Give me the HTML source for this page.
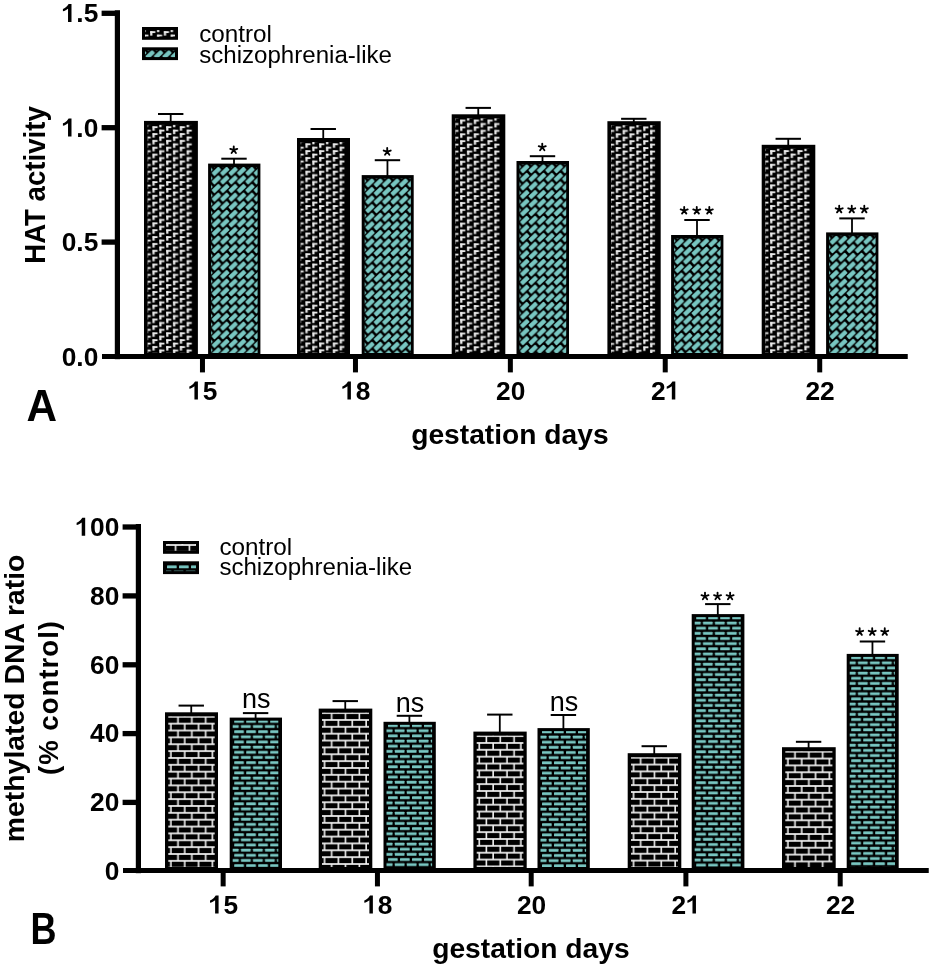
<!DOCTYPE html>
<html><head><meta charset="utf-8"><style>
html,body{margin:0;padding:0;background:#fff;}
svg{display:block;will-change:transform;}
text{font-family:"Liberation Sans", sans-serif;fill:#000;}
</style></head><body>
<svg width="932" height="967" viewBox="0 0 932 967">
<defs><pattern id="p1" patternUnits="userSpaceOnUse" x="152.30" y="126.10" width="13.7" height="6.87"><rect width="13.7" height="6.87" fill="#000"/><rect x="0.20" y="0.20" width="5.1" height="1.8" fill="#ececec"/><rect x="0.20" y="0.20" width="2.2" height="4.4" fill="#ececec"/><rect x="7.05" y="3.63" width="5.1" height="1.8" fill="#ececec"/><rect x="7.05" y="3.63" width="2.2" height="4.4" fill="#ececec"/><rect x="7.05" y="-3.24" width="5.1" height="1.8" fill="#ececec"/><rect x="7.05" y="-3.24" width="2.2" height="4.4" fill="#ececec"/></pattern><pattern id="p2" patternUnits="userSpaceOnUse" x="212.20" y="167.00" width="8.4" height="8.6"><rect width="8.4" height="8.6" fill="#000"/><rect x="-8.90" y="-6.50" width="9.4" height="4.4" rx="0.8" fill="#78c6c1" transform="rotate(-43 -4.20 -4.30)"/><rect x="-8.90" y="2.10" width="9.4" height="4.4" rx="0.8" fill="#78c6c1" transform="rotate(-43 -4.20 4.30)"/><rect x="-8.90" y="10.70" width="9.4" height="4.4" rx="0.8" fill="#78c6c1" transform="rotate(-43 -4.20 12.90)"/><rect x="-0.50" y="-6.50" width="9.4" height="4.4" rx="0.8" fill="#78c6c1" transform="rotate(-43 4.20 -4.30)"/><rect x="-0.50" y="2.10" width="9.4" height="4.4" rx="0.8" fill="#78c6c1" transform="rotate(-43 4.20 4.30)"/><rect x="-0.50" y="10.70" width="9.4" height="4.4" rx="0.8" fill="#78c6c1" transform="rotate(-43 4.20 12.90)"/><rect x="7.90" y="-6.50" width="9.4" height="4.4" rx="0.8" fill="#78c6c1" transform="rotate(-43 12.60 -4.30)"/><rect x="7.90" y="2.10" width="9.4" height="4.4" rx="0.8" fill="#78c6c1" transform="rotate(-43 12.60 4.30)"/><rect x="7.90" y="10.70" width="9.4" height="4.4" rx="0.8" fill="#78c6c1" transform="rotate(-43 12.60 12.90)"/></pattern><pattern id="p3" patternUnits="userSpaceOnUse" x="305.30" y="143.20" width="13.7" height="6.87"><rect width="13.7" height="6.87" fill="#000"/><rect x="0.20" y="0.20" width="5.1" height="1.8" fill="#ececec"/><rect x="0.20" y="0.20" width="2.2" height="4.4" fill="#ececec"/><rect x="7.05" y="3.63" width="5.1" height="1.8" fill="#ececec"/><rect x="7.05" y="3.63" width="2.2" height="4.4" fill="#ececec"/><rect x="7.05" y="-3.24" width="5.1" height="1.8" fill="#ececec"/><rect x="7.05" y="-3.24" width="2.2" height="4.4" fill="#ececec"/></pattern><pattern id="p4" patternUnits="userSpaceOnUse" x="365.80" y="178.50" width="8.4" height="8.6"><rect width="8.4" height="8.6" fill="#000"/><rect x="-8.90" y="-6.50" width="9.4" height="4.4" rx="0.8" fill="#78c6c1" transform="rotate(-43 -4.20 -4.30)"/><rect x="-8.90" y="2.10" width="9.4" height="4.4" rx="0.8" fill="#78c6c1" transform="rotate(-43 -4.20 4.30)"/><rect x="-8.90" y="10.70" width="9.4" height="4.4" rx="0.8" fill="#78c6c1" transform="rotate(-43 -4.20 12.90)"/><rect x="-0.50" y="-6.50" width="9.4" height="4.4" rx="0.8" fill="#78c6c1" transform="rotate(-43 4.20 -4.30)"/><rect x="-0.50" y="2.10" width="9.4" height="4.4" rx="0.8" fill="#78c6c1" transform="rotate(-43 4.20 4.30)"/><rect x="-0.50" y="10.70" width="9.4" height="4.4" rx="0.8" fill="#78c6c1" transform="rotate(-43 4.20 12.90)"/><rect x="7.90" y="-6.50" width="9.4" height="4.4" rx="0.8" fill="#78c6c1" transform="rotate(-43 12.60 -4.30)"/><rect x="7.90" y="2.10" width="9.4" height="4.4" rx="0.8" fill="#78c6c1" transform="rotate(-43 12.60 4.30)"/><rect x="7.90" y="10.70" width="9.4" height="4.4" rx="0.8" fill="#78c6c1" transform="rotate(-43 12.60 12.90)"/></pattern><pattern id="p5" patternUnits="userSpaceOnUse" x="460.00" y="119.50" width="13.7" height="6.87"><rect width="13.7" height="6.87" fill="#000"/><rect x="0.20" y="0.20" width="5.1" height="1.8" fill="#ececec"/><rect x="0.20" y="0.20" width="2.2" height="4.4" fill="#ececec"/><rect x="7.05" y="3.63" width="5.1" height="1.8" fill="#ececec"/><rect x="7.05" y="3.63" width="2.2" height="4.4" fill="#ececec"/><rect x="7.05" y="-3.24" width="5.1" height="1.8" fill="#ececec"/><rect x="7.05" y="-3.24" width="2.2" height="4.4" fill="#ececec"/></pattern><pattern id="p6" patternUnits="userSpaceOnUse" x="520.60" y="164.40" width="8.4" height="8.6"><rect width="8.4" height="8.6" fill="#000"/><rect x="-8.90" y="-6.50" width="9.4" height="4.4" rx="0.8" fill="#78c6c1" transform="rotate(-43 -4.20 -4.30)"/><rect x="-8.90" y="2.10" width="9.4" height="4.4" rx="0.8" fill="#78c6c1" transform="rotate(-43 -4.20 4.30)"/><rect x="-8.90" y="10.70" width="9.4" height="4.4" rx="0.8" fill="#78c6c1" transform="rotate(-43 -4.20 12.90)"/><rect x="-0.50" y="-6.50" width="9.4" height="4.4" rx="0.8" fill="#78c6c1" transform="rotate(-43 4.20 -4.30)"/><rect x="-0.50" y="2.10" width="9.4" height="4.4" rx="0.8" fill="#78c6c1" transform="rotate(-43 4.20 4.30)"/><rect x="-0.50" y="10.70" width="9.4" height="4.4" rx="0.8" fill="#78c6c1" transform="rotate(-43 4.20 12.90)"/><rect x="7.90" y="-6.50" width="9.4" height="4.4" rx="0.8" fill="#78c6c1" transform="rotate(-43 12.60 -4.30)"/><rect x="7.90" y="2.10" width="9.4" height="4.4" rx="0.8" fill="#78c6c1" transform="rotate(-43 12.60 4.30)"/><rect x="7.90" y="10.70" width="9.4" height="4.4" rx="0.8" fill="#78c6c1" transform="rotate(-43 12.60 12.90)"/></pattern><pattern id="p7" patternUnits="userSpaceOnUse" x="615.70" y="126.40" width="13.7" height="6.87"><rect width="13.7" height="6.87" fill="#000"/><rect x="0.20" y="0.20" width="5.1" height="1.8" fill="#ececec"/><rect x="0.20" y="0.20" width="2.2" height="4.4" fill="#ececec"/><rect x="7.05" y="3.63" width="5.1" height="1.8" fill="#ececec"/><rect x="7.05" y="3.63" width="2.2" height="4.4" fill="#ececec"/><rect x="7.05" y="-3.24" width="5.1" height="1.8" fill="#ececec"/><rect x="7.05" y="-3.24" width="2.2" height="4.4" fill="#ececec"/></pattern><pattern id="p8" patternUnits="userSpaceOnUse" x="675.20" y="238.40" width="8.4" height="8.6"><rect width="8.4" height="8.6" fill="#000"/><rect x="-8.90" y="-6.50" width="9.4" height="4.4" rx="0.8" fill="#78c6c1" transform="rotate(-43 -4.20 -4.30)"/><rect x="-8.90" y="2.10" width="9.4" height="4.4" rx="0.8" fill="#78c6c1" transform="rotate(-43 -4.20 4.30)"/><rect x="-8.90" y="10.70" width="9.4" height="4.4" rx="0.8" fill="#78c6c1" transform="rotate(-43 -4.20 12.90)"/><rect x="-0.50" y="-6.50" width="9.4" height="4.4" rx="0.8" fill="#78c6c1" transform="rotate(-43 4.20 -4.30)"/><rect x="-0.50" y="2.10" width="9.4" height="4.4" rx="0.8" fill="#78c6c1" transform="rotate(-43 4.20 4.30)"/><rect x="-0.50" y="10.70" width="9.4" height="4.4" rx="0.8" fill="#78c6c1" transform="rotate(-43 4.20 12.90)"/><rect x="7.90" y="-6.50" width="9.4" height="4.4" rx="0.8" fill="#78c6c1" transform="rotate(-43 12.60 -4.30)"/><rect x="7.90" y="2.10" width="9.4" height="4.4" rx="0.8" fill="#78c6c1" transform="rotate(-43 12.60 4.30)"/><rect x="7.90" y="10.70" width="9.4" height="4.4" rx="0.8" fill="#78c6c1" transform="rotate(-43 12.60 12.90)"/></pattern><pattern id="p9" patternUnits="userSpaceOnUse" x="770.00" y="150.00" width="13.7" height="6.87"><rect width="13.7" height="6.87" fill="#000"/><rect x="0.20" y="0.20" width="5.1" height="1.8" fill="#ececec"/><rect x="0.20" y="0.20" width="2.2" height="4.4" fill="#ececec"/><rect x="7.05" y="3.63" width="5.1" height="1.8" fill="#ececec"/><rect x="7.05" y="3.63" width="2.2" height="4.4" fill="#ececec"/><rect x="7.05" y="-3.24" width="5.1" height="1.8" fill="#ececec"/><rect x="7.05" y="-3.24" width="2.2" height="4.4" fill="#ececec"/></pattern><pattern id="p10" patternUnits="userSpaceOnUse" x="830.20" y="235.80" width="8.4" height="8.6"><rect width="8.4" height="8.6" fill="#000"/><rect x="-8.90" y="-6.50" width="9.4" height="4.4" rx="0.8" fill="#78c6c1" transform="rotate(-43 -4.20 -4.30)"/><rect x="-8.90" y="2.10" width="9.4" height="4.4" rx="0.8" fill="#78c6c1" transform="rotate(-43 -4.20 4.30)"/><rect x="-8.90" y="10.70" width="9.4" height="4.4" rx="0.8" fill="#78c6c1" transform="rotate(-43 -4.20 12.90)"/><rect x="-0.50" y="-6.50" width="9.4" height="4.4" rx="0.8" fill="#78c6c1" transform="rotate(-43 4.20 -4.30)"/><rect x="-0.50" y="2.10" width="9.4" height="4.4" rx="0.8" fill="#78c6c1" transform="rotate(-43 4.20 4.30)"/><rect x="-0.50" y="10.70" width="9.4" height="4.4" rx="0.8" fill="#78c6c1" transform="rotate(-43 4.20 12.90)"/><rect x="7.90" y="-6.50" width="9.4" height="4.4" rx="0.8" fill="#78c6c1" transform="rotate(-43 12.60 -4.30)"/><rect x="7.90" y="2.10" width="9.4" height="4.4" rx="0.8" fill="#78c6c1" transform="rotate(-43 12.60 4.30)"/><rect x="7.90" y="10.70" width="9.4" height="4.4" rx="0.8" fill="#78c6c1" transform="rotate(-43 12.60 12.90)"/></pattern><pattern id="p11" patternUnits="userSpaceOnUse" x="150.00" y="31.00" width="13.7" height="6.87"><rect width="13.7" height="6.87" fill="#000"/><rect x="0.20" y="0.20" width="5.1" height="1.8" fill="#ececec"/><rect x="0.20" y="0.20" width="2.2" height="4.4" fill="#ececec"/><rect x="7.05" y="3.63" width="5.1" height="1.8" fill="#ececec"/><rect x="7.05" y="3.63" width="2.2" height="4.4" fill="#ececec"/><rect x="7.05" y="-3.24" width="5.1" height="1.8" fill="#ececec"/><rect x="7.05" y="-3.24" width="2.2" height="4.4" fill="#ececec"/></pattern><pattern id="p12" patternUnits="userSpaceOnUse" x="146.00" y="50.30" width="8.4" height="8.6"><rect width="8.4" height="8.6" fill="#000"/><rect x="-8.90" y="-6.50" width="9.4" height="4.4" rx="0.8" fill="#78c6c1" transform="rotate(-43 -4.20 -4.30)"/><rect x="-8.90" y="2.10" width="9.4" height="4.4" rx="0.8" fill="#78c6c1" transform="rotate(-43 -4.20 4.30)"/><rect x="-8.90" y="10.70" width="9.4" height="4.4" rx="0.8" fill="#78c6c1" transform="rotate(-43 -4.20 12.90)"/><rect x="-0.50" y="-6.50" width="9.4" height="4.4" rx="0.8" fill="#78c6c1" transform="rotate(-43 4.20 -4.30)"/><rect x="-0.50" y="2.10" width="9.4" height="4.4" rx="0.8" fill="#78c6c1" transform="rotate(-43 4.20 4.30)"/><rect x="-0.50" y="10.70" width="9.4" height="4.4" rx="0.8" fill="#78c6c1" transform="rotate(-43 4.20 12.90)"/><rect x="7.90" y="-6.50" width="9.4" height="4.4" rx="0.8" fill="#78c6c1" transform="rotate(-43 12.60 -4.30)"/><rect x="7.90" y="2.10" width="9.4" height="4.4" rx="0.8" fill="#78c6c1" transform="rotate(-43 12.60 4.30)"/><rect x="7.90" y="10.70" width="9.4" height="4.4" rx="0.8" fill="#78c6c1" transform="rotate(-43 12.60 12.90)"/></pattern><pattern id="p13" patternUnits="userSpaceOnUse" x="165.80" y="716.80" width="13.85" height="13.72"><rect width="13.85" height="13.72" fill="#000"/><rect x="0" y="-0.85" width="13.85" height="1.7" fill="#f2f2f2"/><rect x="0" y="6.01" width="13.85" height="1.7" fill="#f2f2f2"/><rect x="0" y="12.87" width="13.85" height="1.7" fill="#f2f2f2"/><rect x="11.40" y="0" width="1.6" height="6.86" fill="#f2f2f2"/><rect x="4.30" y="6.86" width="1.6" height="6.86" fill="#f2f2f2"/></pattern><pattern id="p14" patternUnits="userSpaceOnUse" x="234.20" y="718.82" width="12.0" height="10.3"><rect width="12.0" height="10.3" fill="#000"/><rect x="0" y="1.13" width="9.7" height="2.9" rx="0.6" fill="#78c6c1"/><rect x="-5.20" y="6.28" width="9.7" height="2.9" rx="0.6" fill="#78c6c1"/><rect x="6.80" y="6.28" width="9.7" height="2.9" rx="0.6" fill="#78c6c1"/></pattern><pattern id="p15" patternUnits="userSpaceOnUse" x="319.50" y="713.10" width="13.85" height="13.72"><rect width="13.85" height="13.72" fill="#000"/><rect x="0" y="-0.85" width="13.85" height="1.7" fill="#f2f2f2"/><rect x="0" y="6.01" width="13.85" height="1.7" fill="#f2f2f2"/><rect x="0" y="12.87" width="13.85" height="1.7" fill="#f2f2f2"/><rect x="11.40" y="0" width="1.6" height="6.86" fill="#f2f2f2"/><rect x="4.30" y="6.86" width="1.6" height="6.86" fill="#f2f2f2"/></pattern><pattern id="p16" patternUnits="userSpaceOnUse" x="388.00" y="723.02" width="12.0" height="10.3"><rect width="12.0" height="10.3" fill="#000"/><rect x="0" y="1.13" width="9.7" height="2.9" rx="0.6" fill="#78c6c1"/><rect x="-5.20" y="6.28" width="9.7" height="2.9" rx="0.6" fill="#78c6c1"/><rect x="6.80" y="6.28" width="9.7" height="2.9" rx="0.6" fill="#78c6c1"/></pattern><pattern id="p17" patternUnits="userSpaceOnUse" x="474.20" y="736.10" width="13.85" height="13.72"><rect width="13.85" height="13.72" fill="#000"/><rect x="0" y="-0.85" width="13.85" height="1.7" fill="#f2f2f2"/><rect x="0" y="6.01" width="13.85" height="1.7" fill="#f2f2f2"/><rect x="0" y="12.87" width="13.85" height="1.7" fill="#f2f2f2"/><rect x="11.40" y="0" width="1.6" height="6.86" fill="#f2f2f2"/><rect x="4.30" y="6.86" width="1.6" height="6.86" fill="#f2f2f2"/></pattern><pattern id="p18" patternUnits="userSpaceOnUse" x="542.00" y="729.32" width="12.0" height="10.3"><rect width="12.0" height="10.3" fill="#000"/><rect x="0" y="1.13" width="9.7" height="2.9" rx="0.6" fill="#78c6c1"/><rect x="-5.20" y="6.28" width="9.7" height="2.9" rx="0.6" fill="#78c6c1"/><rect x="6.80" y="6.28" width="9.7" height="2.9" rx="0.6" fill="#78c6c1"/></pattern><pattern id="p19" patternUnits="userSpaceOnUse" x="628.50" y="757.70" width="13.85" height="13.72"><rect width="13.85" height="13.72" fill="#000"/><rect x="0" y="-0.85" width="13.85" height="1.7" fill="#f2f2f2"/><rect x="0" y="6.01" width="13.85" height="1.7" fill="#f2f2f2"/><rect x="0" y="12.87" width="13.85" height="1.7" fill="#f2f2f2"/><rect x="11.40" y="0" width="1.6" height="6.86" fill="#f2f2f2"/><rect x="4.30" y="6.86" width="1.6" height="6.86" fill="#f2f2f2"/></pattern><pattern id="p20" patternUnits="userSpaceOnUse" x="696.20" y="615.32" width="12.0" height="10.3"><rect width="12.0" height="10.3" fill="#000"/><rect x="0" y="1.13" width="9.7" height="2.9" rx="0.6" fill="#78c6c1"/><rect x="-5.20" y="6.28" width="9.7" height="2.9" rx="0.6" fill="#78c6c1"/><rect x="6.80" y="6.28" width="9.7" height="2.9" rx="0.6" fill="#78c6c1"/></pattern><pattern id="p21" patternUnits="userSpaceOnUse" x="782.80" y="751.70" width="13.85" height="13.72"><rect width="13.85" height="13.72" fill="#000"/><rect x="0" y="-0.85" width="13.85" height="1.7" fill="#f2f2f2"/><rect x="0" y="6.01" width="13.85" height="1.7" fill="#f2f2f2"/><rect x="0" y="12.87" width="13.85" height="1.7" fill="#f2f2f2"/><rect x="11.40" y="0" width="1.6" height="6.86" fill="#f2f2f2"/><rect x="4.30" y="6.86" width="1.6" height="6.86" fill="#f2f2f2"/></pattern><pattern id="p22" patternUnits="userSpaceOnUse" x="851.20" y="655.12" width="12.0" height="10.3"><rect width="12.0" height="10.3" fill="#000"/><rect x="0" y="1.13" width="9.7" height="2.9" rx="0.6" fill="#78c6c1"/><rect x="-5.20" y="6.28" width="9.7" height="2.9" rx="0.6" fill="#78c6c1"/><rect x="6.80" y="6.28" width="9.7" height="2.9" rx="0.6" fill="#78c6c1"/></pattern><pattern id="p23" patternUnits="userSpaceOnUse" x="177.30" y="545.00" width="13.85" height="13.72"><rect width="13.85" height="13.72" fill="#000"/><rect x="0" y="-0.85" width="13.85" height="1.7" fill="#f2f2f2"/><rect x="0" y="6.01" width="13.85" height="1.7" fill="#f2f2f2"/><rect x="0" y="12.87" width="13.85" height="1.7" fill="#f2f2f2"/><rect x="11.40" y="0" width="1.6" height="6.86" fill="#f2f2f2"/><rect x="4.30" y="6.86" width="1.6" height="6.86" fill="#f2f2f2"/></pattern><pattern id="p24" patternUnits="userSpaceOnUse" x="167.00" y="564.30" width="12.0" height="10.3"><rect width="12.0" height="10.3" fill="#000"/><rect x="0" y="1.13" width="9.7" height="2.9" rx="0.6" fill="#78c6c1"/><rect x="-5.20" y="6.28" width="9.7" height="2.9" rx="0.6" fill="#78c6c1"/><rect x="6.80" y="6.28" width="9.7" height="2.9" rx="0.6" fill="#78c6c1"/></pattern></defs>
<rect width="932" height="967" fill="#fff"/>
<rect x="114.80" y="10.30" width="5.20" height="348.90" fill="#000" />
<rect x="101.60" y="10.65" width="18.40" height="5.30" fill="#000" />
<rect x="101.60" y="125.05" width="18.40" height="5.30" fill="#000" />
<rect x="101.60" y="239.45" width="18.40" height="5.30" fill="#000" />
<rect x="102.00" y="354.00" width="805.50" height="5.00" fill="#000" />
<path d="M0.239 0 L0.371 0 L0.371 0.684 L0.262 0.684 Q0.215 0.600 0.130 0.545 Q0.085 0.515 0.045 0.500 L0.045 0.410 Q0.090 0.420 0.150 0.450 Q0.200 0.475 0.239 0.505 Z" transform="translate(61.74 22.10) scale(26.3 -26.3)" fill="#000"/>
<text x="76.37" y="22.10" font-size="26.3" font-weight="bold" text-anchor="start" >.5</text>
<path d="M0.239 0 L0.371 0 L0.371 0.684 L0.262 0.684 Q0.215 0.600 0.130 0.545 Q0.085 0.515 0.045 0.500 L0.045 0.410 Q0.090 0.420 0.150 0.450 Q0.200 0.475 0.239 0.505 Z" transform="translate(61.74 136.50) scale(26.3 -26.3)" fill="#000"/>
<text x="76.37" y="136.50" font-size="26.3" font-weight="bold" text-anchor="start" >.0</text>
<text x="61.74" y="250.90" font-size="26.3" font-weight="bold" text-anchor="start" >0.5</text>
<text x="61.74" y="365.60" font-size="26.3" font-weight="bold" text-anchor="start" >0.0</text>
<rect x="199.97" y="358.00" width="5.00" height="14.40" fill="#000" />
<path d="M0.239 0 L0.371 0 L0.371 0.684 L0.262 0.684 Q0.215 0.600 0.130 0.545 Q0.085 0.515 0.045 0.500 L0.045 0.410 Q0.090 0.420 0.150 0.450 Q0.200 0.475 0.239 0.505 Z" transform="translate(188.15 399.60) scale(26.3 -26.3)" fill="#000"/>
<text x="202.77" y="399.60" font-size="26.3" font-weight="bold" text-anchor="start" >5</text>
<rect x="144.00" y="120.90" width="53.90" height="234.10" fill="#000"/>
<rect x="147.60" y="124.90" width="44.90" height="228.10" fill="url(#p1)"/>
<rect x="208.10" y="163.60" width="52.30" height="191.40" fill="#000"/>
<rect x="211.10" y="167.00" width="46.50" height="186.00" fill="url(#p2)"/>
<rect x="158.00" y="113.00" width="25.40" height="2.00" fill="#000" />
<rect x="169.80" y="114.00" width="1.80" height="7.90" fill="#000" />
<rect x="221.30" y="157.70" width="25.40" height="2.00" fill="#000" />
<rect x="233.10" y="158.70" width="1.80" height="5.90" fill="#000" />
<path d="M233.75 150.00L233.75 146.30M233.75 150.00L237.27 148.86M233.75 150.00L235.92 152.99M233.75 150.00L231.58 152.99M233.75 150.00L230.23 148.86" stroke="#000" stroke-width="1.85" stroke-linecap="round" fill="none"/>
<rect x="352.97" y="358.00" width="5.00" height="14.40" fill="#000" />
<path d="M0.239 0 L0.371 0 L0.371 0.684 L0.262 0.684 Q0.215 0.600 0.130 0.545 Q0.085 0.515 0.045 0.500 L0.045 0.410 Q0.090 0.420 0.150 0.450 Q0.200 0.475 0.239 0.505 Z" transform="translate(341.15 399.60) scale(26.3 -26.3)" fill="#000"/>
<text x="355.77" y="399.60" font-size="26.3" font-weight="bold" text-anchor="start" >8</text>
<rect x="297.00" y="138.00" width="53.00" height="217.00" fill="#000"/>
<rect x="300.60" y="142.00" width="44.00" height="211.00" fill="url(#p3)"/>
<rect x="361.70" y="175.10" width="52.00" height="179.90" fill="#000"/>
<rect x="364.70" y="178.50" width="46.20" height="174.50" fill="url(#p4)"/>
<rect x="310.55" y="128.00" width="25.40" height="2.00" fill="#000" />
<rect x="322.35" y="129.00" width="1.80" height="10.00" fill="#000" />
<rect x="374.75" y="159.20" width="25.40" height="2.00" fill="#000" />
<rect x="386.55" y="160.20" width="1.80" height="15.90" fill="#000" />
<path d="M387.20 151.70L387.20 148.00M387.20 151.70L390.72 150.56M387.20 151.70L389.37 154.69M387.20 151.70L385.03 154.69M387.20 151.70L383.68 150.56" stroke="#000" stroke-width="1.85" stroke-linecap="round" fill="none"/>
<rect x="507.86" y="358.00" width="5.00" height="14.40" fill="#000" />
<text x="496.04" y="399.60" font-size="26.3" font-weight="bold" text-anchor="start" >20</text>
<rect x="451.70" y="114.30" width="53.60" height="240.70" fill="#000"/>
<rect x="455.30" y="118.30" width="44.60" height="234.70" fill="url(#p5)"/>
<rect x="516.50" y="161.00" width="52.50" height="194.00" fill="#000"/>
<rect x="519.50" y="164.40" width="46.70" height="188.60" fill="url(#p6)"/>
<rect x="465.55" y="106.90" width="25.40" height="2.00" fill="#000" />
<rect x="477.35" y="107.90" width="1.80" height="7.40" fill="#000" />
<rect x="529.80" y="155.20" width="25.40" height="2.00" fill="#000" />
<rect x="541.60" y="156.20" width="1.80" height="5.80" fill="#000" />
<path d="M542.25 147.30L542.25 143.60M542.25 147.30L545.77 146.16M542.25 147.30L544.42 150.29M542.25 147.30L540.08 150.29M542.25 147.30L538.73 146.16" stroke="#000" stroke-width="1.85" stroke-linecap="round" fill="none"/>
<rect x="662.74" y="358.00" width="5.00" height="14.40" fill="#000" />
<text x="650.92" y="399.60" font-size="26.3" font-weight="bold" text-anchor="start" >2</text>
<path d="M0.239 0 L0.371 0 L0.371 0.684 L0.262 0.684 Q0.215 0.600 0.130 0.545 Q0.085 0.515 0.045 0.500 L0.045 0.410 Q0.090 0.420 0.150 0.450 Q0.200 0.475 0.239 0.505 Z" transform="translate(665.54 399.60) scale(26.3 -26.3)" fill="#000"/>
<rect x="607.40" y="121.20" width="53.30" height="233.80" fill="#000"/>
<rect x="611.00" y="125.20" width="44.30" height="227.80" fill="url(#p7)"/>
<rect x="671.10" y="235.00" width="52.30" height="120.00" fill="#000"/>
<rect x="674.10" y="238.40" width="46.50" height="114.60" fill="url(#p8)"/>
<rect x="621.10" y="117.80" width="25.40" height="2.00" fill="#000" />
<rect x="632.90" y="118.80" width="1.80" height="3.40" fill="#000" />
<rect x="684.30" y="219.00" width="25.40" height="2.00" fill="#000" />
<rect x="696.10" y="220.00" width="1.80" height="16.00" fill="#000" />
<path d="M684.20 210.60L684.20 206.90M684.20 210.60L687.72 209.46M684.20 210.60L686.37 213.59M684.20 210.60L682.03 213.59M684.20 210.60L680.68 209.46" stroke="#000" stroke-width="1.85" stroke-linecap="round" fill="none"/>
<path d="M696.75 210.60L696.75 206.90M696.75 210.60L700.27 209.46M696.75 210.60L698.92 213.59M696.75 210.60L694.58 213.59M696.75 210.60L693.23 209.46" stroke="#000" stroke-width="1.85" stroke-linecap="round" fill="none"/>
<path d="M709.30 210.60L709.30 206.90M709.30 210.60L712.82 209.46M709.30 210.60L711.47 213.59M709.30 210.60L707.13 213.59M709.30 210.60L705.78 209.46" stroke="#000" stroke-width="1.85" stroke-linecap="round" fill="none"/>
<rect x="817.22" y="358.00" width="5.00" height="14.40" fill="#000" />
<text x="805.40" y="399.60" font-size="26.3" font-weight="bold" text-anchor="start" >22</text>
<rect x="761.70" y="144.80" width="53.60" height="210.20" fill="#000"/>
<rect x="765.30" y="148.80" width="44.60" height="204.20" fill="url(#p9)"/>
<rect x="826.10" y="232.40" width="52.30" height="122.60" fill="#000"/>
<rect x="829.10" y="235.80" width="46.50" height="117.20" fill="url(#p10)"/>
<rect x="775.55" y="137.80" width="25.40" height="2.00" fill="#000" />
<rect x="787.35" y="138.80" width="1.80" height="7.00" fill="#000" />
<rect x="839.30" y="217.40" width="25.40" height="2.00" fill="#000" />
<rect x="851.10" y="218.40" width="1.80" height="15.00" fill="#000" />
<path d="M839.20 209.40L839.20 205.70M839.20 209.40L842.72 208.26M839.20 209.40L841.37 212.39M839.20 209.40L837.03 212.39M839.20 209.40L835.68 208.26" stroke="#000" stroke-width="1.85" stroke-linecap="round" fill="none"/>
<path d="M851.75 209.40L851.75 205.70M851.75 209.40L855.27 208.26M851.75 209.40L853.92 212.39M851.75 209.40L849.58 212.39M851.75 209.40L848.23 208.26" stroke="#000" stroke-width="1.85" stroke-linecap="round" fill="none"/>
<path d="M864.30 209.40L864.30 205.70M864.30 209.40L867.82 208.26M864.30 209.40L866.47 212.39M864.30 209.40L862.13 212.39M864.30 209.40L860.78 208.26" stroke="#000" stroke-width="1.85" stroke-linecap="round" fill="none"/>
<rect x="102.00" y="354.00" width="805.50" height="5.00" fill="#000" />
<rect x="143.50" y="28.50" width="33" height="9.8" fill="url(#p11)" stroke="#000" stroke-width="3"/>
<rect x="143.50" y="48.80" width="33" height="9.8" fill="url(#p12)" stroke="#000" stroke-width="3"/>
<text x="199.20" y="41.90" font-size="23.2" font-weight="normal" text-anchor="start" textLength="72.8" lengthAdjust="spacingAndGlyphs">control</text>
<text x="199.20" y="62.50" font-size="23.0" font-weight="normal" text-anchor="start" textLength="192.8" lengthAdjust="spacingAndGlyphs">schizophrenia-like</text>
<text x="411.20" y="444.00" font-size="28.2" font-weight="bold" text-anchor="start" >gestation days</text>
<text x="0" y="0" font-size="45" font-weight="bold" transform="translate(26.6 420.6) scale(0.94 1)">A</text>
<text x="0" y="0" font-size="28.6" font-weight="bold" text-anchor="middle" textLength="157.6" lengthAdjust="spacingAndGlyphs" transform="translate(44.9 185.0) rotate(-90)">HAT activity</text>
<rect x="135.80" y="524.00" width="5.20" height="349.20" fill="#000" />
<rect x="122.60" y="524.35" width="18.40" height="5.30" fill="#000" />
<rect x="122.60" y="593.25" width="18.40" height="5.30" fill="#000" />
<rect x="122.60" y="662.15" width="18.40" height="5.30" fill="#000" />
<rect x="122.60" y="730.95" width="18.40" height="5.30" fill="#000" />
<rect x="122.60" y="799.75" width="18.40" height="5.30" fill="#000" />
<rect x="123.00" y="868.00" width="805.50" height="5.00" fill="#000" />
<path d="M0.239 0 L0.371 0 L0.371 0.684 L0.262 0.684 Q0.215 0.600 0.130 0.545 Q0.085 0.515 0.045 0.500 L0.045 0.410 Q0.090 0.420 0.150 0.450 Q0.200 0.475 0.239 0.505 Z" transform="translate(75.43 535.80) scale(26.3 -26.3)" fill="#000"/>
<text x="90.05" y="535.80" font-size="26.3" font-weight="bold" text-anchor="start" >00</text>
<text x="90.05" y="604.70" font-size="26.3" font-weight="bold" text-anchor="start" >80</text>
<text x="90.05" y="673.60" font-size="26.3" font-weight="bold" text-anchor="start" >60</text>
<text x="90.05" y="742.40" font-size="26.3" font-weight="bold" text-anchor="start" >40</text>
<text x="90.05" y="811.20" font-size="26.3" font-weight="bold" text-anchor="start" >20</text>
<text x="104.68" y="879.60" font-size="26.3" font-weight="bold" text-anchor="start" >0</text>
<rect x="220.65" y="872.00" width="5.00" height="14.40" fill="#000" />
<path d="M0.239 0 L0.371 0 L0.371 0.684 L0.262 0.684 Q0.215 0.600 0.130 0.545 Q0.085 0.515 0.045 0.500 L0.045 0.410 Q0.090 0.420 0.150 0.450 Q0.200 0.475 0.239 0.505 Z" transform="translate(208.83 913.60) scale(26.3 -26.3)" fill="#000"/>
<text x="223.45" y="913.60" font-size="26.3" font-weight="bold" text-anchor="start" >5</text>
<rect x="165.00" y="712.30" width="53.00" height="156.70" fill="#000"/>
<rect x="168.30" y="716.30" width="46.40" height="150.70" fill="url(#p13)"/>
<rect x="229.70" y="717.60" width="52.30" height="151.40" fill="#000"/>
<rect x="232.70" y="720.60" width="45.60" height="146.40" fill="url(#p14)"/>
<rect x="178.55" y="704.60" width="25.40" height="2.00" fill="#000" />
<rect x="190.35" y="705.60" width="1.80" height="7.70" fill="#000" />
<rect x="242.90" y="712.10" width="25.40" height="2.00" fill="#000" />
<rect x="254.70" y="713.10" width="1.80" height="5.50" fill="#000" />
<text x="256.25" y="707.90" font-size="27.0" font-weight="normal" text-anchor="middle" >ns</text>
<rect x="374.94" y="872.00" width="5.00" height="14.40" fill="#000" />
<path d="M0.239 0 L0.371 0 L0.371 0.684 L0.262 0.684 Q0.215 0.600 0.130 0.545 Q0.085 0.515 0.045 0.500 L0.045 0.410 Q0.090 0.420 0.150 0.450 Q0.200 0.475 0.239 0.505 Z" transform="translate(363.12 913.60) scale(26.3 -26.3)" fill="#000"/>
<text x="377.74" y="913.60" font-size="26.3" font-weight="bold" text-anchor="start" >8</text>
<rect x="318.70" y="708.60" width="53.60" height="160.40" fill="#000"/>
<rect x="322.00" y="712.60" width="47.00" height="154.40" fill="url(#p15)"/>
<rect x="383.50" y="721.80" width="52.30" height="147.20" fill="#000"/>
<rect x="386.50" y="724.80" width="45.60" height="142.20" fill="url(#p16)"/>
<rect x="332.55" y="700.10" width="25.40" height="2.00" fill="#000" />
<rect x="344.35" y="701.10" width="1.80" height="8.50" fill="#000" />
<rect x="396.70" y="714.80" width="25.40" height="2.00" fill="#000" />
<rect x="408.50" y="715.80" width="1.80" height="7.00" fill="#000" />
<text x="410.05" y="711.70" font-size="27.0" font-weight="normal" text-anchor="middle" >ns</text>
<rect x="528.70" y="872.00" width="5.00" height="14.40" fill="#000" />
<text x="516.88" y="913.60" font-size="26.3" font-weight="bold" text-anchor="start" >20</text>
<rect x="473.40" y="731.60" width="53.30" height="137.40" fill="#000"/>
<rect x="476.70" y="735.60" width="46.70" height="131.40" fill="url(#p17)"/>
<rect x="537.50" y="728.10" width="52.30" height="140.90" fill="#000"/>
<rect x="540.50" y="731.10" width="45.60" height="135.90" fill="url(#p18)"/>
<rect x="487.10" y="713.60" width="25.40" height="2.00" fill="#000" />
<rect x="498.90" y="714.60" width="1.80" height="18.00" fill="#000" />
<rect x="550.70" y="714.00" width="25.40" height="2.00" fill="#000" />
<rect x="562.50" y="715.00" width="1.80" height="14.10" fill="#000" />
<text x="564.05" y="710.90" font-size="27.0" font-weight="normal" text-anchor="middle" >ns</text>
<rect x="683.40" y="872.00" width="5.00" height="14.40" fill="#000" />
<text x="671.58" y="913.60" font-size="26.3" font-weight="bold" text-anchor="start" >2</text>
<path d="M0.239 0 L0.371 0 L0.371 0.684 L0.262 0.684 Q0.215 0.600 0.130 0.545 Q0.085 0.515 0.045 0.500 L0.045 0.410 Q0.090 0.420 0.150 0.450 Q0.200 0.475 0.239 0.505 Z" transform="translate(686.20 913.60) scale(26.3 -26.3)" fill="#000"/>
<rect x="627.70" y="753.20" width="53.60" height="115.80" fill="#000"/>
<rect x="631.00" y="757.20" width="47.00" height="109.80" fill="url(#p19)"/>
<rect x="691.70" y="614.10" width="52.70" height="254.90" fill="#000"/>
<rect x="694.70" y="617.10" width="46.00" height="249.90" fill="url(#p20)"/>
<rect x="641.55" y="745.20" width="25.40" height="2.00" fill="#000" />
<rect x="653.35" y="746.20" width="1.80" height="8.00" fill="#000" />
<rect x="705.10" y="603.10" width="25.40" height="2.00" fill="#000" />
<rect x="716.90" y="604.10" width="1.80" height="11.00" fill="#000" />
<path d="M705.00 596.30L705.00 592.60M705.00 596.30L708.52 595.16M705.00 596.30L707.17 599.29M705.00 596.30L702.83 599.29M705.00 596.30L701.48 595.16" stroke="#000" stroke-width="1.85" stroke-linecap="round" fill="none"/>
<path d="M717.55 596.30L717.55 592.60M717.55 596.30L721.07 595.16M717.55 596.30L719.72 599.29M717.55 596.30L715.38 599.29M717.55 596.30L714.03 595.16" stroke="#000" stroke-width="1.85" stroke-linecap="round" fill="none"/>
<path d="M730.10 596.30L730.10 592.60M730.10 596.30L733.62 595.16M730.10 596.30L732.27 599.29M730.10 596.30L727.93 599.29M730.10 596.30L726.58 595.16" stroke="#000" stroke-width="1.85" stroke-linecap="round" fill="none"/>
<rect x="837.70" y="872.00" width="5.00" height="14.40" fill="#000" />
<text x="825.88" y="913.60" font-size="26.3" font-weight="bold" text-anchor="start" >22</text>
<rect x="782.00" y="747.20" width="53.70" height="121.80" fill="#000"/>
<rect x="785.30" y="751.20" width="47.10" height="115.80" fill="url(#p21)"/>
<rect x="846.70" y="653.90" width="52.00" height="215.10" fill="#000"/>
<rect x="849.70" y="656.90" width="45.30" height="210.10" fill="url(#p22)"/>
<rect x="795.90" y="740.80" width="25.40" height="2.00" fill="#000" />
<rect x="807.70" y="741.80" width="1.80" height="6.40" fill="#000" />
<rect x="859.75" y="640.50" width="25.40" height="2.00" fill="#000" />
<rect x="871.55" y="641.50" width="1.80" height="13.40" fill="#000" />
<path d="M859.65 631.90L859.65 628.20M859.65 631.90L863.17 630.76M859.65 631.90L861.82 634.89M859.65 631.90L857.48 634.89M859.65 631.90L856.13 630.76" stroke="#000" stroke-width="1.85" stroke-linecap="round" fill="none"/>
<path d="M872.20 631.90L872.20 628.20M872.20 631.90L875.72 630.76M872.20 631.90L874.37 634.89M872.20 631.90L870.03 634.89M872.20 631.90L868.68 630.76" stroke="#000" stroke-width="1.85" stroke-linecap="round" fill="none"/>
<path d="M884.75 631.90L884.75 628.20M884.75 631.90L888.27 630.76M884.75 631.90L886.92 634.89M884.75 631.90L882.58 634.89M884.75 631.90L881.23 630.76" stroke="#000" stroke-width="1.85" stroke-linecap="round" fill="none"/>
<rect x="123.00" y="868.00" width="805.50" height="5.00" fill="#000" />
<rect x="164.50" y="542.50" width="33" height="9.8" fill="url(#p23)" stroke="#000" stroke-width="3"/>
<rect x="164.50" y="562.80" width="33" height="9.8" fill="url(#p24)" stroke="#000" stroke-width="3"/>
<text x="219.40" y="555.20" font-size="23.2" font-weight="normal" text-anchor="start" textLength="72.8" lengthAdjust="spacingAndGlyphs">control</text>
<text x="219.40" y="575.40" font-size="23.0" font-weight="normal" text-anchor="start" textLength="192.8" lengthAdjust="spacingAndGlyphs">schizophrenia-like</text>
<text x="432.20" y="958.00" font-size="28.2" font-weight="bold" text-anchor="start" >gestation days</text>
<text x="0" y="0" font-size="45" font-weight="bold" transform="translate(30.4 944.4) scale(0.80 1)">B</text>
<text x="0" y="0" font-size="28.4" font-weight="bold" text-anchor="middle" transform="translate(24.4 698.4) rotate(-90)">methylated DNA ratio</text>
<text x="0" y="0" font-size="27.6" font-weight="bold" text-anchor="middle" textLength="154" transform="translate(58 698) rotate(-90)">(% control)</text>
</svg>
</body></html>
